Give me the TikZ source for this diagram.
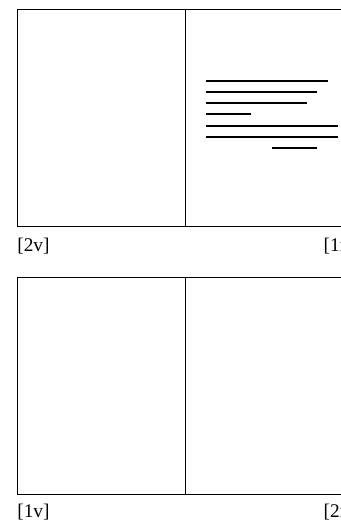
\documentclass[tikz,border=0pt]{standalone}
\usepackage{fontspec}
\setmainfont{Liberation Serif}
\usetikzlibrary{positioning}

\begin{document}
\begin{tikzpicture}[
    x=0.2mm, y=-0.2mm,
    page/.style={draw, minimum width=33.6mm, minimum height=43.4mm, inner sep=0pt, outer sep=0pt, line width=0.5pt},
    folio/.style={inner sep=0pt, font=\fontsize{11}{13}\selectfont},
    textline/.style={line width=0.6pt}
]
\useasboundingbox (0,0) rectangle (341,524);
\clip (0,0) rectangle (341,524);

% upper opening
\node [page, anchor=north west] (p2v) at (17,9) {};
\node [page, right=0pt of p2v] (p1r) {};
\node [folio, anchor=north west] (l2v) at ([yshift=-2.3mm]p2v.south west) {[2v]};
\node [folio, anchor=north east] (l1r) at ([yshift=-2.3mm]p1r.south east) {[1r]};

% writing on 1r
\foreach \xa/\xb/\yy in {206/328/81, 206/317/92, 206/307/103, 206/251/114, 206/338/126, 206/338/137, 272/317/148}
    \draw[textline] (\xa,\yy) -- (\xb,\yy);

% lower opening
\node [page, anchor=north west] (p1v) at (17,277) {};
\node [page, right=0pt of p1v] (p2r) {};
\node [folio, anchor=north west] (l1v) at ([yshift=-2.0mm]p1v.south west) {[1v]};
\node [folio, anchor=north east] (l2r) at ([yshift=-2.0mm]p2r.south east) {[2r]};

\end{tikzpicture}
\end{document}
